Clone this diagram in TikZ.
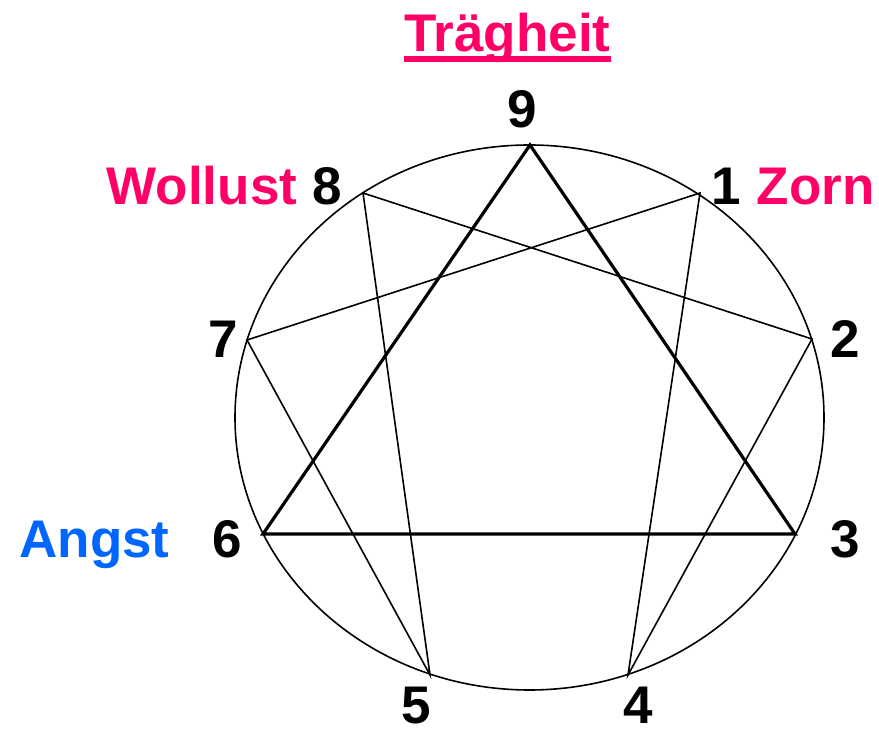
\documentclass[tikz,border=0pt]{standalone}
\usepackage{fontspec}
\setmainfont{Liberation Sans}
\usepackage{tikz}
\definecolor{sinred}{HTML}{FF0066}
\definecolor{sinblue}{HTML}{0066FF}

\begin{document}
\begin{tikzpicture}[x=0.5pt,y=-0.5pt,
  num/.style={font=\fontsize{26.5}{30}\selectfont\bfseries,inner sep=0pt,anchor=base},
  sin/.style={num,text=sinred},
  fear/.style={num,text=sinblue},
  thinline/.style={line width=0.8pt,line join=miter},
  thickline/.style={line width=1.6pt,line join=miter}]
  \useasboundingbox (0,0) rectangle (879,731);
  % the nine points on the circle
  \coordinate (p9) at (530,145);
  \coordinate (p1) at (700,193);
  \coordinate (p2) at (812,339);
  \coordinate (p3) at (795,534);
  \coordinate (p4) at (628,675);
  \coordinate (p5) at (430,675);
  \coordinate (p6) at (263,534);
  \coordinate (p7) at (247,340);
  \coordinate (p8) at (363,193);
  \draw[thinline] (529.5,417.5) ellipse [x radius=294.5, y radius=272.5];
  % triangle 9-3-6 and the figure 1-4-2-8-5-7
  \draw[thickline] (p9) -- (p3) -- (p6) -- cycle;
  \draw[thinline] (p1) -- (p4) -- (p2) -- (p8) -- (p5) -- (p7) -- cycle;
  % numbers
  \node[num] (n9) at (522,128) {9};
  \node[num] (n1) at (726,205) {1};
  \node[num] (n2) at (845,358) {2};
  \node[num] (n3) at (845,558) {3};
  \node[num] (n4) at (638.5,724) {4};
  \node[num] (n5) at (416.5,724) {5};
  \node[num] (n6) at (227.5,558) {6};
  \node[num] (n7) at (223.5,358) {7};
  \node[num] (n8) at (327.5,205) {8};
  % words
  \node[sin] (traegheit) at (507.5,52) {Trägheit};
  \draw[sinred,line width=2.8pt] ([yshift=-3.6pt]traegheit.base west) -- ([yshift=-3.6pt]traegheit.base east);
  \node[sin] (wollust) at (202,205) {Wollust};
  \node[sin] (zorn) at (815.5,205) {Zorn};
  \node[fear] (angst) at (94.5,558) {Angst};
\end{tikzpicture}
\end{document}
